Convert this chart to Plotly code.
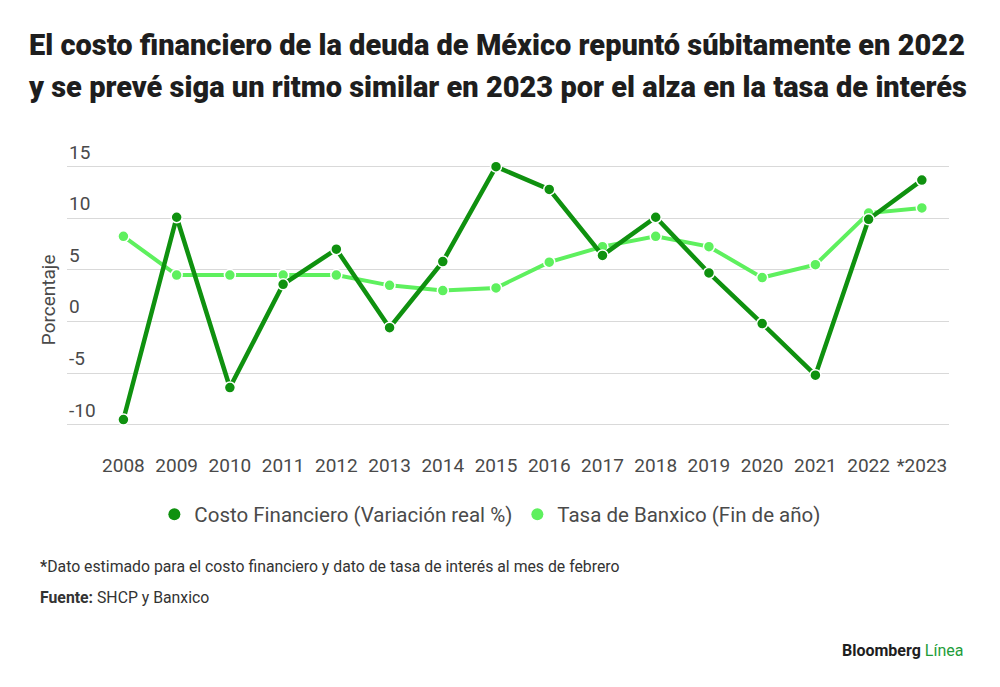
import plotly.graph_objects as go

# Datos
years = ["2008", "2009", "2010", "2011", "2012", "2013", "2014", "2015",
         "2016", "2017", "2018", "2019", "2020", "2021", "2022", "*2023"]
costo_financiero = [-9.5, 10.1, -6.4, 3.6, 7.0, -0.6, 5.8, 15.0,
                    12.8, 6.4, 10.1, 4.7, -0.2, -5.2, 9.9, 13.7]
tasa_banxico = [8.25, 4.5, 4.5, 4.5, 4.5, 3.5, 3.0, 3.25,
                5.75, 7.25, 8.25, 7.25, 4.25, 5.5, 10.5, 11.0]
y_ticks = [-10, -5, 0, 5, 10, 15]

DARK = "#0f910f"
LIGHT = "#5ef05e"
TEXT = "#4a4a4a"

fig = go.Figure()

fig.add_trace(go.Scatter(
    x=years, y=tasa_banxico, mode="lines+markers",
    line=dict(color=LIGHT, width=4),
    marker=dict(size=11, color=LIGHT, line=dict(color="white", width=1.5)),
    showlegend=False,
))
fig.add_trace(go.Scatter(
    x=years, y=costo_financiero, mode="lines+markers",
    line=dict(color=DARK, width=4.5),
    marker=dict(size=11, color=DARK, line=dict(color="white", width=1.5)),
    showlegend=False,
))

# legend-only entries (solid circles, no line)
fig.add_trace(go.Scatter(
    x=[None], y=[None], mode="markers", name="Costo Financiero (Variación real %)",
    marker=dict(size=18, color=DARK),
))
fig.add_trace(go.Scatter(
    x=[None], y=[None], mode="markers", name="Tasa de Banxico (Fin de año)",
    marker=dict(size=18, color=LIGHT),
))

fig.update_xaxes(
    type="category", range=[-1.06, 15.51],
    showgrid=False, zeroline=False, showline=False,
    ticks="outside", ticklen=13, tickcolor="white",
    tickfont=dict(family="Roboto", size=19, color=TEXT),
)
fig.update_yaxes(
    range=[-11, 17.1], tickvals=y_ticks, showticklabels=False,
    showgrid=True, gridcolor="#d9d9d9", gridwidth=1,
    zeroline=True, zerolinecolor="#d9d9d9", zerolinewidth=1,
    showline=False,
)

# y tick labels sit above their gridlines, inside the plot
for v in y_ticks:
    fig.add_annotation(
        xref="paper", yref="y", x=0.0, y=v, xanchor="left", yanchor="bottom",
        yshift=1, showarrow=False, text=str(v),
        font=dict(family="Roboto", size=19, color=TEXT),
    )

fig.update_layout(
    width=1000, height=687,
    margin=dict(l=59, r=59, t=137, b=260),
    plot_bgcolor="white", paper_bgcolor="white",
    font=dict(family="Roboto", color=TEXT),
    legend=dict(
        orientation="h", x=0.48, xanchor="center", y=-0.274, yanchor="middle",
        font=dict(family="Roboto", size=20.5, color=TEXT),
        itemsizing="constant",
    ),
)

# title (two lines, placed separately)
title_font = dict(family="Roboto", size=29, color="#1e1e1e", weight=900)
fig.add_annotation(
    xref="paper", yref="paper", x=0.488, y=1.345, yanchor="middle",
    showarrow=False,
    text="El costo financiero de la deuda de México repuntó súbitamente en 2022",
    font=title_font,
)
fig.add_annotation(
    xref="paper", yref="paper", x=0.488, y=1.200, yanchor="middle",
    showarrow=False,
    text="y se prevé siga un ritmo similar en 2023 por el alza en la tasa de interés",
    font=title_font,
)

# y-axis title
fig.add_annotation(
    xref="paper", yref="paper", x=-0.0215, y=0.465, xanchor="center", yanchor="middle",
    showarrow=False, textangle=-90, text="Porcentaje",
    font=dict(family="Roboto", size=19, color=TEXT),
)

# footnotes
fig.add_annotation(
    xref="paper", yref="paper", x=-0.033, y=-0.453, xanchor="left", yanchor="middle",
    showarrow=False,
    text="<b>*</b>Dato estimado para el costo financiero y dato de tasa de interés al mes de febrero",
    font=dict(family="Roboto", size=15.8, color="#333333"),
)
fig.add_annotation(
    xref="paper", yref="paper", x=-0.033, y=-0.561, xanchor="left", yanchor="middle",
    showarrow=False,
    text="<b>Fuente:</b> SHCP y Banxico",
    font=dict(family="Roboto", size=15.8, color="#333333"),
)
fig.add_annotation(
    xref="paper", yref="paper", x=1.018, y=-0.743, xanchor="right", yanchor="middle",
    showarrow=False,
    text="<b>Bloomberg</b> <span style='color:#1f9d3a'>Línea</span>",
    font=dict(family="Roboto", size=16, color="#1e1e1e"),
)

fig.write_html("out.html")
